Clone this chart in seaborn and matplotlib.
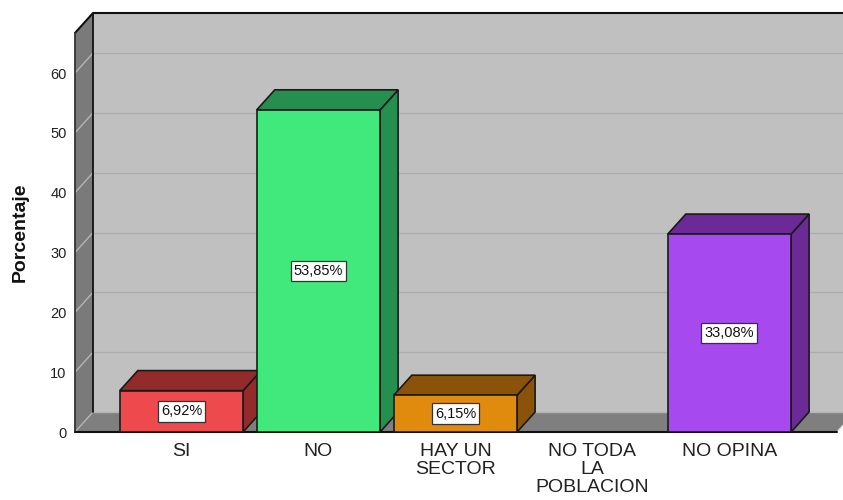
import seaborn as sns
import matplotlib.pyplot as plt
from matplotlib.patches import Polygon
import pandas as pd

categorias = ["SI", "NO", "HAY UN\nSECTOR", "NO TODA\nLA\nPOBLACION", "NO OPINA"]
porcentajes = [6.92, 53.85, 6.15, 0.0, 33.08]
etiquetas = ["6,92%", "53,85%", "6,15%", "", "33,08%"]
color_frente = ["#ee4a4e", "#41e87c", "#e08a0e", "#9ab5d9", "#a64af0"]
color_lado = ["#932b2d", "#258f4f", "#8a5309", "#5a6f8a", "#6b2a96"]

df = pd.DataFrame({"cat": categorias, "pct": porcentajes})

sns.set_style("white")
plt.rcParams["font.family"] = ["Liberation Sans", "DejaVu Sans"]

fig = plt.figure(figsize=(8.43, 5.0), dpi=100)
ax = fig.add_axes([75 / 843, 68 / 500, 768 / 843, 419 / 500])

# profundidad del efecto 3D (en unidades de datos)
dx, dy = 0.1314, 3.343
x0 = -0.777
ytop = 66.69
xfin = 4.785

# pared trasera, pared lateral y piso
ax.add_patch(Polygon([(x0 + dx, dy), (6, dy), (6, ytop + dy), (x0 + dx, ytop + dy)],
                     closed=True, fc="#c0c0c0", ec="none", zorder=0))
ax.add_patch(Polygon([(x0, 0), (x0 + dx, dy), (x0 + dx, ytop + dy), (x0, ytop)],
                     closed=True, fc="#7a7a7a", ec="none", zorder=0.5))
ax.add_patch(Polygon([(x0, 0), (xfin, 0), (xfin + dx, dy), (x0 + dx, dy)],
                     closed=True, fc="#7f7f7f", ec="none", zorder=0.5))

for v in range(10, 70, 10):
    ax.plot([x0 + dx, 6], [v + dy, v + dy], color="#adadad", lw=1, zorder=0.2)
    ax.plot([x0, x0 + dx], [v, v + dy], color="#b4b4b4", lw=1, zorder=0.8)
ax.plot([x0, x0 + dx], [0, dy], color="#b4b4b4", lw=1, zorder=0.8)
ax.plot([x0 + dx, 6], [dy, dy], color="#b4b4b4", lw=1, zorder=0.8)
ax.plot([xfin, xfin + dx], [0, dy], color="#e0e0e0", lw=1, zorder=0.8)

# bordes
ax.plot([x0 + dx, x0 + dx], [dy, ytop + dy], color="#111111", lw=1.3, zorder=1)
ax.plot([x0, x0 + dx, 6], [ytop, ytop + dy, ytop + dy], color="#111111", lw=1.5,
        zorder=1, clip_on=False)
ax.plot([x0, x0], [0, ytop], color="#333333", lw=1.3, zorder=1, clip_on=False)
ax.plot([x0, xfin], [0, 0], color="#111111", lw=1.5, zorder=1, clip_on=False)

sns.barplot(data=df, x="cat", y="pct", hue="cat", palette=color_frente,
            saturation=1, width=0.9, legend=False, ax=ax,
            edgecolor="#1a1a1a", linewidth=1.2)

w = 0.45
for i, (p, val) in enumerate(zip(ax.patches[-len(categorias):], porcentajes)):
    if val <= 0:
        p.set_visible(False)
        continue
    p.set_zorder(4 + 2 * i)
    xl, xr = i - w, i + w
    ax.add_patch(Polygon([(xr, 0), (xr + dx, dy), (xr + dx, val + dy), (xr, val)],
                         closed=True, fc=color_lado[i], ec="#1a1a1a", lw=1.2,
                         zorder=3 + 2 * i))
    ax.add_patch(Polygon([(xl, val), (xl + dx, val + dy), (xr + dx, val + dy), (xr, val)],
                         closed=True, fc=color_lado[i], ec="#1a1a1a", lw=1.2,
                         zorder=3 + 2 * i))
    ax.text(i, val / 2, etiquetas[i], ha="center", va="center", fontsize=10.5,
            color="#111111", zorder=20,
            bbox=dict(boxstyle="square,pad=0.22", fc="white", ec="#333333", lw=0.9))

ax.set_xlim(x0, x0 + 768 / 137)
ax.set_ylim(0, ytop + dy)
ax.set_yticks(range(0, 70, 10))
ax.set_xticks(range(len(categorias)))
ax.set_xticklabels(categorias, fontsize=14, color="#222222", linespacing=1.08)
ax.tick_params(axis="y", length=0, pad=6, labelsize=10.5, labelcolor="#222222")
ax.tick_params(axis="x", length=0, pad=8)
for s in ax.spines.values():
    s.set_visible(False)
ax.set_xlabel("")
ax.set_ylabel("Porcentaje", fontsize=14, fontweight="bold", color="#111111")
ax.yaxis.set_label_coords(-75 / 768 + 29 / 768, (432 - 232) / 419)

fig.savefig("out.png", dpi=100)
